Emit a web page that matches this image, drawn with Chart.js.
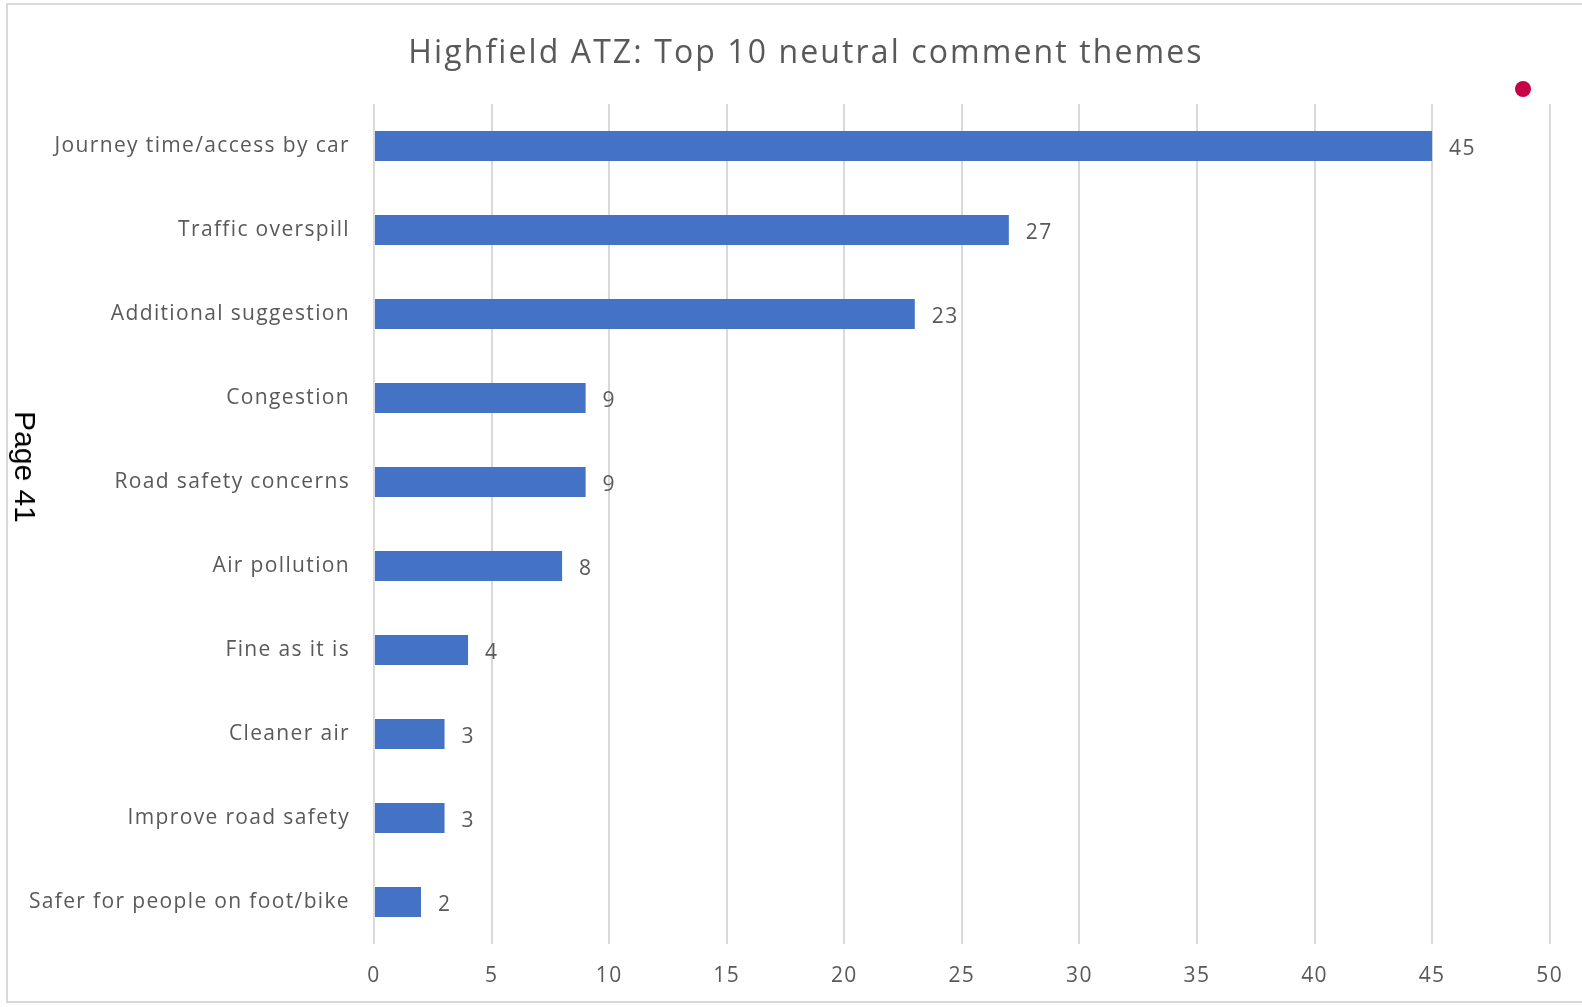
<!DOCTYPE html>
<html>
<head>
<meta charset="utf-8">
<title>Highfield ATZ neutral comment themes</title>
<script src="https://cdn.jsdelivr.net/npm/chart.js@4/dist/chart.umd.min.js"></script>
<style>
  html, body { margin: 0; padding: 0; background: #fff; overflow: hidden; }
  #wrap { position: relative; width: 1582px; height: 1007px; }
  #frame {
    position: absolute; left: 6px; top: 3px; width: 1600px; height: 1000px;
    border: 2px solid #d9d9d9; box-sizing: border-box;
  }
  #chart { position: absolute; left: 0; top: 0; }
  #title {
    position: absolute; left: 806px; top: 50px;
    transform: translate(-50%, -50%); white-space: nowrap;
    font-family: "Open Sans", "Noto Sans", sans-serif; font-size: 32px;
    letter-spacing: 2.1px; color: #595959;
  }
  #page {
    position: absolute; left: 25px; top: 467px;
    font-family: "Liberation Sans", Arial, sans-serif; font-size: 30px; color: #000;
    transform: translate(-50%, -50%) rotate(90deg); white-space: nowrap;
  }
  #dot {
    position: absolute; left: 1515px; top: 81px; width: 16px; height: 16px;
    border-radius: 50%; background: #c8004a;
  }
</style>
</head>
<body>
<div id="wrap">
  <div id="frame"></div>
  <canvas id="chart" width="1582" height="1007"></canvas>
  <div id="title">Highfield ATZ: Top 10 neutral comment themes</div>
  <div id="page">Page 41</div>
  <div id="dot"></div>
</div>
<script>
const themes = [
  'Journey time/access by car',
  'Traffic overspill',
  'Additional suggestion',
  'Congestion',
  'Road safety concerns',
  'Air pollution',
  'Fine as it is',
  'Cleaner air',
  'Improve road safety',
  'Safer for people on foot/bike'
];
const counts = [45, 27, 23, 9, 9, 8, 4, 3, 3, 2];
const xTicks = [0, 5, 10, 15, 20, 25, 30, 35, 40, 45, 50];

const grey = '#595959';
const fontFamily = '"Open Sans", "Noto Sans", sans-serif';
const spacing = '1.35px';

// wider tracking for all canvas text
const tracking = {
  id: 'tracking',
  beforeUpdate(chart) { chart.ctx.letterSpacing = spacing; },
  beforeDraw(chart) { chart.ctx.letterSpacing = spacing; }
};

// value printed just past the end of each bar
const valueLabels = {
  id: 'valueLabels',
  afterDatasetsDraw(chart) {
    const ctx = chart.ctx;
    const meta = chart.getDatasetMeta(0);
    ctx.save();
    ctx.font = '21px ' + fontFamily;
    ctx.letterSpacing = spacing;
    ctx.fillStyle = grey;
    ctx.textAlign = 'left';
    ctx.textBaseline = 'middle';
    meta.data.forEach((bar, i) => {
      ctx.fillText(String(counts[i]), bar.x + 17, bar.y + 3);
    });
    ctx.restore();
  }
};

const ctx = document.getElementById('chart').getContext('2d');
new Chart(ctx, {
  type: 'bar',
  data: {
    labels: themes,
    datasets: [{
      data: counts,
      backgroundColor: '#4472c4',
      borderWidth: 0,
      barPercentage: 0.36,
      categoryPercentage: 1
    }]
  },
  options: {
    indexAxis: 'y',
    responsive: false,
    animation: false,
    events: [],
    layout: { padding: { left: 0, right: 28, top: 104, bottom: 0 } },
    plugins: {
      legend: { display: false },
      tooltip: { enabled: false },
      title: { display: false }
    },
    scales: {
      x: {
        min: 0,
        max: 50,
        afterBuildTicks(scale) {
          scale.ticks = xTicks.map(v => ({ value: v }));
        },
        afterFit(scale) { scale.height = 63; },
        grid: { color: '#d9d9d9', lineWidth: 2, drawTicks: false },
        border: { display: false },
        ticks: { color: grey, padding: 19, font: { family: fontFamily, size: 21 } }
      },
      y: {
        afterFit(scale) { scale.width = 374; },
        grid: { display: false, drawTicks: false },
        border: { display: false },
        ticks: { color: grey, padding: 24, font: { family: fontFamily, size: 21 } }
      }
    }
  },
  plugins: [tracking, valueLabels]
});
</script>
</body>
</html>
